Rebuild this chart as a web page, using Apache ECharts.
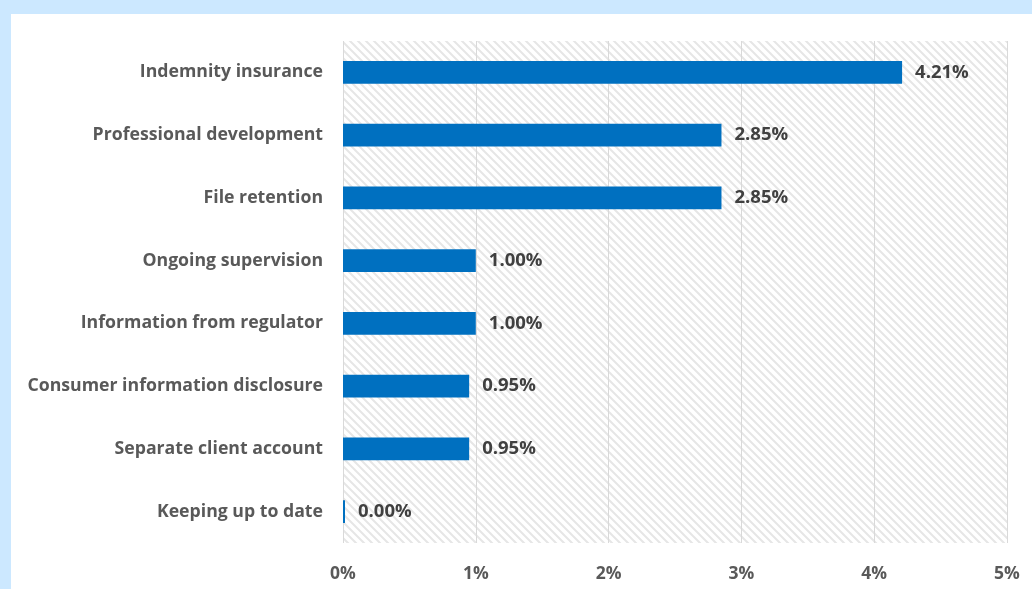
<!DOCTYPE html>
<html>
<head>
<meta charset="utf-8">
<script src="https://cdn.jsdelivr.net/npm/echarts@6/dist/echarts.min.js"></script>
<style>
  html, body { margin: 0; padding: 0; background: #cce8ff; width: 1032px; height: 589px; overflow: hidden; }
  #chart { position: absolute; left: 11px; top: 14px; width: 1021px; height: 575px; background: #ffffff; }
</style>
</head>
<body>
<div id="chart"></div>
<script>
// Share of responses per compliance area (percent)
const categories = [
  'Indemnity insurance',
  'Professional development',
  'File retention',
  'Ongoing supervision',
  'Information from regulator',
  'Consumer information disclosure',
  'Separate client account',
  'Keeping up to date'
];
const values = [4.21, 2.85, 2.85, 1.00, 1.00, 0.95, 0.95, 0.00];
const xTicks = [0, 1, 2, 3, 4, 5];

// Wide downward-diagonal hatch tile for the plot background
function hatchTile() {
  const s = 8;
  const c = document.createElement('canvas');
  c.width = s; c.height = s;
  const ctx = c.getContext('2d');
  ctx.fillStyle = '#ffffff';
  ctx.fillRect(0, 0, s, s);
  ctx.strokeStyle = '#e6e6e6';
  ctx.lineWidth = 2;
  ctx.beginPath();
  ctx.moveTo(-2, -2); ctx.lineTo(s + 2, s + 2);
  ctx.moveTo(-2, s - 2); ctx.lineTo(2, s + 2);
  ctx.moveTo(s - 2, -2); ctx.lineTo(s + 2, 2);
  ctx.stroke();
  return c;
}

const chart = echarts.init(document.getElementById('chart'), null, { renderer: 'canvas' });
const font = '"Open Sans", "DejaVu Sans", sans-serif';

chart.setOption({
  animation: false,
  grid: {
    left: 332, right: 25, top: 27, bottom: 46,
    show: true,
    borderWidth: 0,
    backgroundColor: { image: hatchTile(), repeat: 'repeat' },
    containLabel: false
  },
  xAxis: {
    type: 'value',
    min: xTicks[0],
    max: xTicks[xTicks.length - 1],
    interval: 1,
    axisLine: { show: false },
    axisTick: { show: false },
    splitLine: { show: true, lineStyle: { color: '#d9d9d9', width: 1 } },
    axisLabel: {
      margin: 22,
      color: '#595959',
      fontFamily: font,
      fontWeight: 'bold',
      fontSize: 17.5,
      formatter: v => v + '%'
    }
  },
  yAxis: {
    type: 'category',
    data: categories,
    inverse: true,
    axisLine: { show: false },
    axisTick: { show: false },
    splitLine: { show: false },
    axisLabel: {
      margin: 20,
      color: '#595959',
      fontFamily: font,
      fontWeight: 'bold',
      fontSize: 17.7
    }
  },
  series: [{
    type: 'bar',
    data: values,
    barCategoryGap: '64%',
    barMinHeight: 2,
    itemStyle: { color: '#0070c0' },
    label: {
      show: true,
      position: 'right',
      distance: 13,
      color: '#404040',
      fontFamily: font,
      fontWeight: 'bold',
      fontSize: 18.5,
      formatter: p => p.value.toFixed(2) + '%'
    }
  }]
});
</script>
</body>
</html>
